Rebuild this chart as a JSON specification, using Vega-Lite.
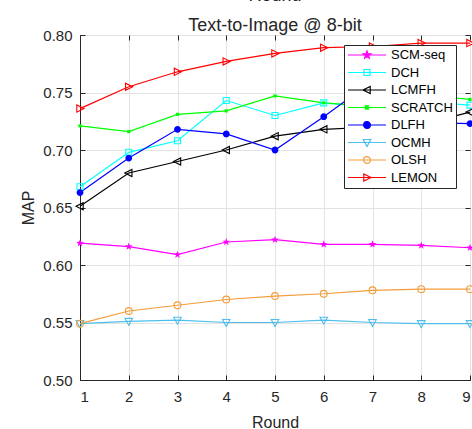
{
  "$schema": "https://vega.github.io/schema/vega-lite/v6.json",
  "width": 390,
  "height": 345,
  "autosize": {"type": "none"},
  "padding": {"left": 80, "top": 35, "right": 2, "bottom": 49},
  "title": {
    "text": ["Round", "Text-to-Image @ 8-bit"],
    "fontSize": 18,
    "font": "Liberation Sans",
    "fontWeight": "normal",
    "color": "#262626",
    "lineHeight": 30,
    "offset": -7,
    "anchor": "middle"
  },
  "data": {
    "values": [
      {"method": "SCM-seq", "round": 1, "map": 0.619},
      {"method": "SCM-seq", "round": 2, "map": 0.616},
      {"method": "SCM-seq", "round": 3, "map": 0.609},
      {"method": "SCM-seq", "round": 4, "map": 0.620},
      {"method": "SCM-seq", "round": 5, "map": 0.622},
      {"method": "SCM-seq", "round": 6, "map": 0.618},
      {"method": "SCM-seq", "round": 7, "map": 0.618},
      {"method": "SCM-seq", "round": 8, "map": 0.617},
      {"method": "SCM-seq", "round": 9, "map": 0.615},
      {"method": "DCH", "round": 1, "map": 0.668},
      {"method": "DCH", "round": 2, "map": 0.698},
      {"method": "DCH", "round": 3, "map": 0.708},
      {"method": "DCH", "round": 4, "map": 0.743},
      {"method": "DCH", "round": 5, "map": 0.730},
      {"method": "DCH", "round": 6, "map": 0.741},
      {"method": "DCH", "round": 7, "map": 0.737},
      {"method": "DCH", "round": 8, "map": 0.742},
      {"method": "DCH", "round": 9, "map": 0.739},
      {"method": "LCMFH", "round": 1, "map": 0.651},
      {"method": "LCMFH", "round": 2, "map": 0.680},
      {"method": "LCMFH", "round": 3, "map": 0.690},
      {"method": "LCMFH", "round": 4, "map": 0.700},
      {"method": "LCMFH", "round": 5, "map": 0.712},
      {"method": "LCMFH", "round": 6, "map": 0.718},
      {"method": "LCMFH", "round": 7, "map": 0.720},
      {"method": "LCMFH", "round": 8, "map": 0.722},
      {"method": "LCMFH", "round": 9, "map": 0.733},
      {"method": "SCRATCH", "round": 1, "map": 0.721},
      {"method": "SCRATCH", "round": 2, "map": 0.716},
      {"method": "SCRATCH", "round": 3, "map": 0.731},
      {"method": "SCRATCH", "round": 4, "map": 0.734},
      {"method": "SCRATCH", "round": 5, "map": 0.747},
      {"method": "SCRATCH", "round": 6, "map": 0.741},
      {"method": "SCRATCH", "round": 7, "map": 0.738},
      {"method": "SCRATCH", "round": 8, "map": 0.748},
      {"method": "SCRATCH", "round": 9, "map": 0.744},
      {"method": "DLFH", "round": 1, "map": 0.663},
      {"method": "DLFH", "round": 2, "map": 0.693},
      {"method": "DLFH", "round": 3, "map": 0.718},
      {"method": "DLFH", "round": 4, "map": 0.714},
      {"method": "DLFH", "round": 5, "map": 0.700},
      {"method": "DLFH", "round": 6, "map": 0.729},
      {"method": "DLFH", "round": 7, "map": 0.760},
      {"method": "DLFH", "round": 8, "map": 0.724},
      {"method": "DLFH", "round": 9, "map": 0.723},
      {"method": "OCMH", "round": 1, "map": 0.549},
      {"method": "OCMH", "round": 2, "map": 0.551},
      {"method": "OCMH", "round": 3, "map": 0.552},
      {"method": "OCMH", "round": 4, "map": 0.550},
      {"method": "OCMH", "round": 5, "map": 0.550},
      {"method": "OCMH", "round": 6, "map": 0.552},
      {"method": "OCMH", "round": 7, "map": 0.550},
      {"method": "OCMH", "round": 8, "map": 0.549},
      {"method": "OCMH", "round": 9, "map": 0.549},
      {"method": "OLSH", "round": 1, "map": 0.549},
      {"method": "OLSH", "round": 2, "map": 0.560},
      {"method": "OLSH", "round": 3, "map": 0.565},
      {"method": "OLSH", "round": 4, "map": 0.570},
      {"method": "OLSH", "round": 5, "map": 0.573},
      {"method": "OLSH", "round": 6, "map": 0.575},
      {"method": "OLSH", "round": 7, "map": 0.578},
      {"method": "OLSH", "round": 8, "map": 0.579},
      {"method": "OLSH", "round": 9, "map": 0.579},
      {"method": "LEMON", "round": 1, "map": 0.736},
      {"method": "LEMON", "round": 2, "map": 0.755},
      {"method": "LEMON", "round": 3, "map": 0.768},
      {"method": "LEMON", "round": 4, "map": 0.777},
      {"method": "LEMON", "round": 5, "map": 0.784},
      {"method": "LEMON", "round": 6, "map": 0.789},
      {"method": "LEMON", "round": 7, "map": 0.790},
      {"method": "LEMON", "round": 8, "map": 0.793},
      {"method": "LEMON", "round": 9, "map": 0.793}
    ]
  },
  "resolve": {"axis": {"x": "independent", "y": "independent"}},
  "layer": [
    {
      "encoding": {
        "x": {
          "field": "round", "type": "quantitative",
          "scale": {"domain": [1, 9], "nice": false},
          "axis": {"orient": "bottom", "values": [1, 2, 3, 4, 5, 6, 7, 8, 9], "title": "Round", "format": "d", "tickSize": -5, "labelPadding": 14, "titlePadding": 10}
        },
        "y": {
          "field": "map", "type": "quantitative",
          "scale": {"domain": [0.5, 0.8], "nice": false, "zero": false},
          "axis": {"orient": "left", "values": [0.5, 0.55, 0.6, 0.65, 0.7, 0.75, 0.8], "format": ".2f", "title": "MAP", "tickSize": -5, "labelPadding": 13, "titlePadding": 6}
        }
      },
      "layer": [
        {
          "mark": {"type": "line", "strokeWidth": 1.2},
          "encoding": {
            "color": {
              "field": "method", "type": "nominal",
              "scale": {
                "domain": ["SCM-seq", "DCH", "LCMFH", "SCRATCH", "DLFH", "OCMH", "OLSH", "LEMON"],
                "range": ["#ff00ff", "#00ffff", "#000000", "#00ff00", "#0000ff", "#4dbeee", "#f39c3a", "#ff0000"]
              },
              "legend": {
                "orient": "none", "legendX": 264, "legendY": 10, "title": null,
                "encode": {
                  "symbols": {
                    "update": {
                      "shape": {"signal": "datum.value==='SCM-seq'?'M-1,0H5.333M2.167,-0.667L2.324,-0.216L2.801,-0.206L2.42,0.083L2.559,0.539L2.167,0.267L1.775,0.539L1.914,0.083L1.533,-0.206L2.01,-0.216Z':datum.value==='DCH'?'M-1,0H5.333M1.667,-0.5H2.667V0.5H1.667Z':datum.value==='LCMFH'?'M-1,0H5.333M1.5,0L2.7,-0.6L2.7,0.6Z':datum.value==='SCRATCH'?'M-1,0H5.333M1.9,-0.267H2.434V0.267H1.9Z':datum.value==='DLFH'?'M-1,0H5.333M1.6,0A0.567,0.567 0 1,0 2.734,0A0.567,0.567 0 1,0 1.6,0Z':datum.value==='OCMH'?'M-1,0H5.333M2.167,0.667L1.534,-0.5L2.8,-0.5Z':datum.value==='OLSH'?'M-1,0H5.333M1.6,0A0.567,0.567 0 1,0 2.734,0A0.567,0.567 0 1,0 1.6,0Z':'M-1,0H5.333M2.834,0L1.634,-0.6L1.634,0.6Z'"},
                      "fill": {"signal": "(datum.value==='SCM-seq'||datum.value==='SCRATCH'||datum.value==='DLFH')?scale('color',datum.value):'transparent'"},
                      "stroke": {"signal": "scale('color',datum.value)"},
                      "strokeWidth": {"value": 1.2},
                      "opacity": {"value": 1}
                    }
                  }
                }
              }
            }
          }
        },
        {"transform": [{"filter": {"field": "method", "equal": "SCM-seq"}}],
         "mark": {"type": "point", "size": 64, "filled": true, "color": "#ff00ff", "opacity": 1, "shape": "M0,-1L0.235,-0.324L0.951,-0.309L0.380,0.124L0.588,0.809L0,0.4L-0.588,0.809L-0.380,0.124L-0.951,-0.309L-0.235,-0.324Z"}},
        {"transform": [{"filter": {"field": "method", "equal": "DCH"}}],
         "mark": {"type": "point", "size": 64, "filled": false, "color": "#00ffff", "opacity": 1, "strokeWidth": 1.1, "shape": "M-0.75,-0.75H0.75V0.75H-0.75Z"}},
        {"transform": [{"filter": {"field": "method", "equal": "LCMFH"}}],
         "mark": {"type": "point", "size": 64, "filled": false, "color": "#000000", "opacity": 1, "strokeWidth": 1.1, "shape": "M-1,0L0.8,-0.9L0.8,0.9Z"}},
        {"transform": [{"filter": {"field": "method", "equal": "SCRATCH"}}],
         "mark": {"type": "point", "size": 64, "filled": true, "color": "#00ff00", "opacity": 1, "shape": "M-0.4,-0.4H0.4V0.4H-0.4Z"}},
        {"transform": [{"filter": {"field": "method", "equal": "DLFH"}}],
         "mark": {"type": "point", "size": 64, "filled": true, "color": "#0000ff", "opacity": 1, "shape": "M-0.85,0A0.85,0.85 0 1,0 0.85,0A0.85,0.85 0 1,0 -0.85,0Z"}},
        {"transform": [{"filter": {"field": "method", "equal": "OCMH"}}],
         "mark": {"type": "point", "size": 64, "filled": false, "color": "#4dbeee", "opacity": 1, "strokeWidth": 1.1, "shape": "M0,1L-0.95,-0.75L0.95,-0.75Z"}},
        {"transform": [{"filter": {"field": "method", "equal": "OLSH"}}],
         "mark": {"type": "point", "size": 64, "filled": false, "color": "#f39c3a", "opacity": 1, "strokeWidth": 1.1, "shape": "M-0.85,0A0.85,0.85 0 1,0 0.85,0A0.85,0.85 0 1,0 -0.85,0Z"}},
        {"transform": [{"filter": {"field": "method", "equal": "LEMON"}}],
         "mark": {"type": "point", "size": 64, "filled": false, "color": "#ff0000", "opacity": 1, "strokeWidth": 1.1, "shape": "M1,0L-0.8,-0.9L-0.8,0.9Z"}}
      ]
    },
    {
      "mark": {"type": "point", "opacity": 0},
      "encoding": {
        "x": {
          "field": "round", "type": "quantitative",
          "scale": {"domain": [1, 9], "nice": false},
          "axis": {"orient": "top", "values": [1, 2, 3, 4, 5, 6, 7, 8, 9], "title": null, "labels": false, "grid": false, "domain": false, "tickSize": -5}
        },
        "y": {
          "field": "map", "type": "quantitative",
          "scale": {"domain": [0.5, 0.8], "nice": false, "zero": false},
          "axis": {"orient": "right", "values": [0.5, 0.55, 0.6, 0.65, 0.7, 0.75, 0.8], "title": null, "labels": false, "grid": false, "domain": false, "tickSize": -5}
        }
      }
    }
  ],
  "config": {
    "view": {"stroke": "#262626", "strokeWidth": 1},
    "font": "Liberation Sans",
    "axis": {
      "domainColor": "#262626",
      "tickColor": "#262626",
      "labelColor": "#262626",
      "titleColor": "#262626",
      "gridColor": "#e3e3e3",
      "labelFont": "Liberation Sans",
      "titleFont": "Liberation Sans",
      "labelFontSize": 15,
      "titleFontSize": 16,
      "titleFontWeight": "normal"
    },
    "legend": {
      "labelFont": "Liberation Sans",
      "labelFontSize": 13,
      "labelColor": "#000000",
      "fillColor": "#ffffff",
      "strokeColor": "#262626",
      "padding": 3,
      "symbolSize": 144,
      "symbolStrokeWidth": 1.2,
      "labelOffset": 30,
      "rowPadding": 3.5
    }
  }
}
